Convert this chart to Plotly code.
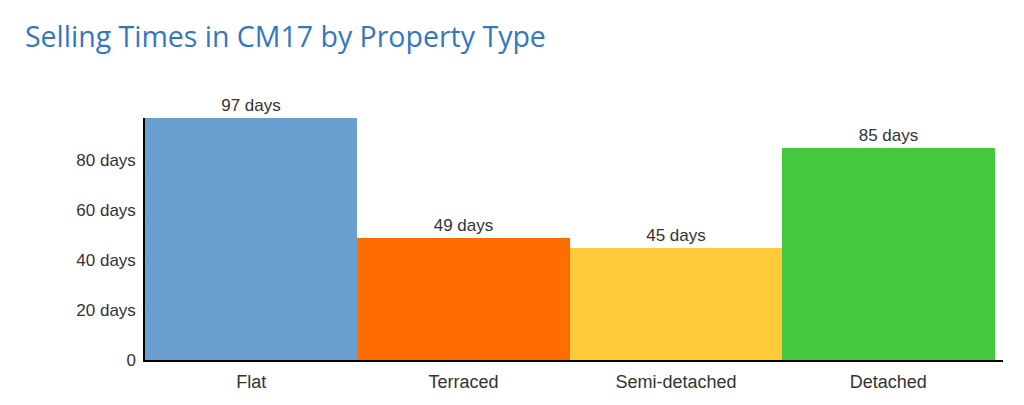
import plotly.graph_objects as go

# property types and average selling times (days)
types = ["Flat", "Terraced", "Semi-detached", "Detached"]
days = [97, 49, 45, 85]
bar_colors = ["#6a9fd0", "#ff6d00", "#ffcb3b", "#44c93e"]
ytick_vals = [0, 20, 40, 60, 80]
ytick_text = ["0", "20 days", "40 days", "60 days", "80 days"]

fig = go.Figure()
fig.add_trace(go.Bar(
    x=list(range(len(types))),
    y=days,
    width=1,
    marker=dict(color=bar_colors, line=dict(width=0)),
    text=[f"{d} days" for d in days],
    textposition="outside",
    textfont=dict(family="Liberation Sans, Arial", size=17, color="#333333"),
    cliponaxis=False,
))

# page body adds an 8px margin, so the figure is sized to fit the window
fig.update_layout(
    width=1016, height=397,
    margin=dict(l=137, r=21, t=110, b=45, autoexpand=False),
    paper_bgcolor="white", plot_bgcolor="white",
    showlegend=False,
    bargap=0,
    title=dict(text="Selling Times in CM17 by Property Type",
               x=0.0167, xanchor="left", y=0.927, yanchor="middle",
               font=dict(family="Open Sans", size=28.5, color="#3577bf")),
    font=dict(family="Liberation Sans, Arial", size=17, color="#333333"),
)
fig.update_xaxes(
    range=[-0.5, 3.54],
    tickvals=list(range(len(types))), ticktext=types,
    showline=True, linecolor="black", linewidth=1.5,
    layer="below traces",
    showgrid=False, zeroline=False, ticks="",
    ticklabelstandoff=5,
    tickfont=dict(size=18, color="#333333"),
)
fig.update_yaxes(
    range=[0, 97],
    tickvals=ytick_vals, ticktext=ytick_text,
    showline=True, linecolor="black", linewidth=1.5,
    showgrid=False, zeroline=False, ticks="",
    ticklabelstandoff=4,
    tickfont=dict(size=17, color="#333333"),
)

fig.write_html("out.html")
